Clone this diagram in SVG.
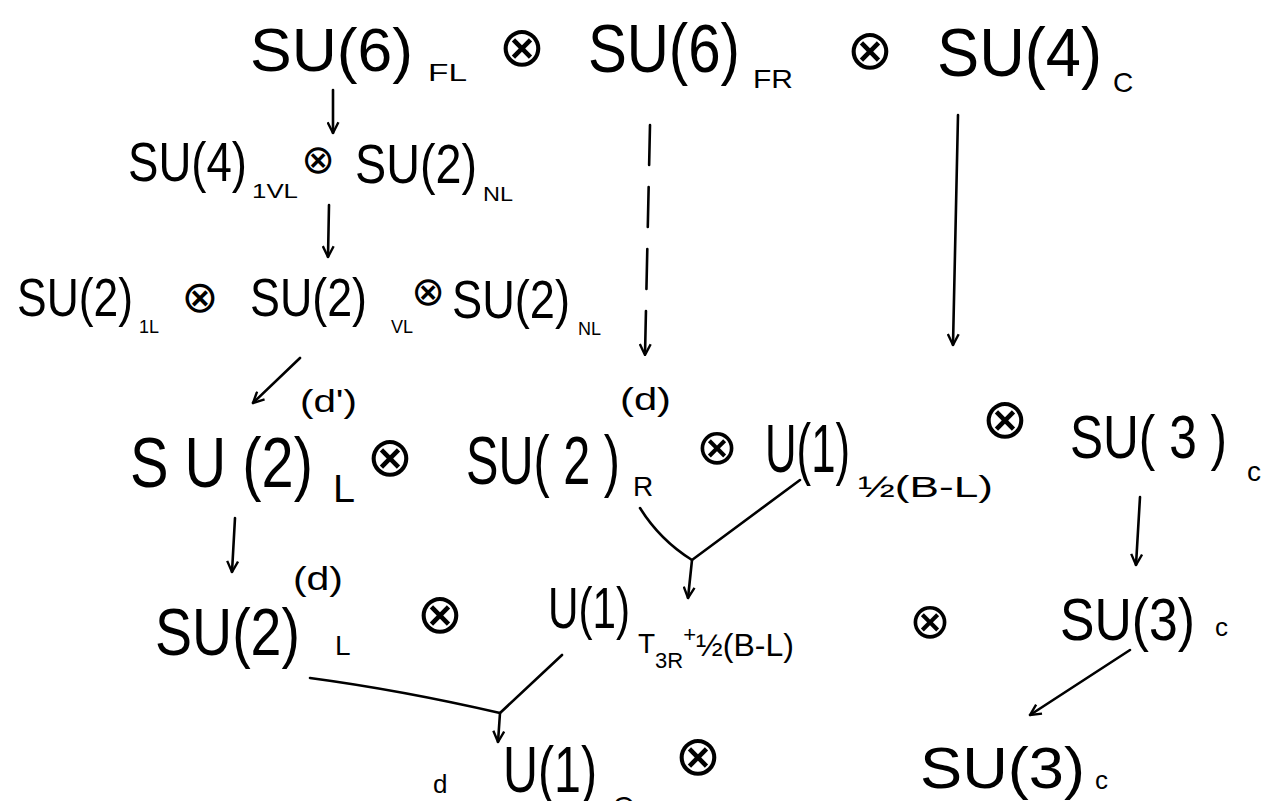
<svg xmlns="http://www.w3.org/2000/svg" width="1274" height="801" viewBox="0 0 1274 801">
<defs>
<marker id="ah" viewBox="0 0 12 12" refX="11" refY="6" markerWidth="13" markerHeight="13" markerUnits="userSpaceOnUse" orient="auto">
<path d="M1,1 L11,6 L1,11" fill="none" stroke="#000" stroke-width="2.2"/>
</marker>
<style>
text{font-family:"Liberation Sans","DejaVu Sans",sans-serif;fill:#000}
.ot{font-family:"DejaVu Sans",sans-serif;text-anchor:middle}
.ln{fill:none;stroke:#000;stroke-width:2.6;stroke-linecap:round}
</style>
</defs>
<rect width="1274" height="801" fill="#fff"/>
<g id="row1">
<text x="250" y="71" font-size="62" textLength="163" lengthAdjust="spacingAndGlyphs">SU(6)</text>
<text x="428" y="81" font-size="24" textLength="39" lengthAdjust="spacingAndGlyphs">FL</text>
<text class="ot" x="522" y="66" font-size="56">⊗</text>
<text x="588" y="72" font-size="68" textLength="152" lengthAdjust="spacingAndGlyphs">SU(6)</text>
<text x="753" y="88" font-size="26" textLength="40" lengthAdjust="spacingAndGlyphs">FR</text>
<text class="ot" x="870" y="69" font-size="56">⊗</text>
<text x="937" y="76" font-size="68" textLength="165" lengthAdjust="spacingAndGlyphs">SU(4)</text>
<text x="1113" y="92" font-size="28">C</text>
</g>
<g id="row2">
<text x="128" y="181" font-size="56" textLength="119" lengthAdjust="spacingAndGlyphs">SU(4)</text>
<text x="252" y="198" font-size="20" textLength="46" lengthAdjust="spacingAndGlyphs">1VL</text>
<text class="ot" x="318" y="173" font-size="40">⊗</text>
<text x="355" y="183" font-size="56" textLength="122" lengthAdjust="spacingAndGlyphs">SU(2)</text>
<text x="483" y="201" font-size="20" textLength="30" lengthAdjust="spacingAndGlyphs">NL</text>
</g>
<g id="row3">
<text x="17" y="316" font-size="54" textLength="116" lengthAdjust="spacingAndGlyphs">SU(2)</text>
<text x="139" y="333" font-size="18">1L</text>
<text class="ot" x="200" y="312" font-size="44">⊗</text>
<text x="250" y="316" font-size="54" textLength="117" lengthAdjust="spacingAndGlyphs">SU(2)</text>
<text x="391" y="333" font-size="18">VL</text>
<text class="ot" x="428" y="305" font-size="40">⊗</text>
<text x="452" y="318" font-size="54" textLength="118" lengthAdjust="spacingAndGlyphs">SU(2)</text>
<text x="578" y="335" font-size="18">NL</text>
</g>
<g id="row4">
<text x="130" y="487" font-size="70" textLength="183" lengthAdjust="spacingAndGlyphs">S U (2)</text>
<text x="300" y="412" font-size="32" textLength="57" lengthAdjust="spacingAndGlyphs">(d')</text>
<text x="333" y="502" font-size="38" textLength="22" lengthAdjust="spacingAndGlyphs">L</text>
<text class="ot" x="390" y="476" font-size="56">⊗</text>
<text x="466" y="484" font-size="68" textLength="154" lengthAdjust="spacingAndGlyphs">SU( 2 )</text>
<text x="620" y="410" font-size="32" textLength="51" lengthAdjust="spacingAndGlyphs">(d)</text>
<text x="633" y="496" font-size="28">R</text>
<text class="ot" x="717" y="464" font-size="50">⊗</text>
<text x="765" y="472" font-size="68" textLength="85" lengthAdjust="spacingAndGlyphs">U(1)</text>
<text x="858" y="497" font-size="30" textLength="135" lengthAdjust="spacingAndGlyphs">½(B-L)</text>
<text class="ot" x="1005" y="438" font-size="56">⊗</text>
<text x="1070" y="458" font-size="62" textLength="157" lengthAdjust="spacingAndGlyphs">SU( 3 )</text>
<text x="1247" y="481" font-size="28">c</text>
</g>
<g id="row5">
<text x="155" y="655" font-size="66" textLength="145" lengthAdjust="spacingAndGlyphs">SU(2)</text>
<text x="293" y="590" font-size="34" textLength="50" lengthAdjust="spacingAndGlyphs">(d)</text>
<text x="335" y="655" font-size="28">L</text>
<text class="ot" x="440" y="633" font-size="56">⊗</text>
<text x="548" y="628" font-size="58" textLength="82" lengthAdjust="spacingAndGlyphs">U(1)</text>
<text x="638" y="653" font-size="28">T<tspan dy="15" font-size="22">3R</tspan><tspan dy="-26" font-size="22">+</tspan><tspan dy="14" font-size="32">½(B-L)</tspan></text>
<text class="ot" x="930" y="638" font-size="50">⊗</text>
<text x="1060" y="640" font-size="60" textLength="135" lengthAdjust="spacingAndGlyphs">SU(3)</text>
<text x="1215" y="636" font-size="26">c</text>
</g>
<g id="row6">
<text x="433" y="793" font-size="26">d</text>
<text x="503" y="792" font-size="64" textLength="94" lengthAdjust="spacingAndGlyphs">U(1)</text>
<text x="613" y="816" font-size="28">Q</text>
<text class="ot" x="698" y="775" font-size="56">⊗</text>
<text x="920" y="788" font-size="58" textLength="165" lengthAdjust="spacingAndGlyphs">SU(3)</text>
<text x="1095" y="789" font-size="26">c</text>
</g>
<g id="connectors">
<line class="ln" x1="333" y1="90" x2="333" y2="133" marker-end="url(#ah)"/>
<line class="ln" x1="329" y1="205" x2="328" y2="257" marker-end="url(#ah)"/>
<line class="ln" x1="650" y1="125" x2="645" y2="355" stroke-dasharray="40,22" marker-end="url(#ah)"/>
<line class="ln" x1="958" y1="115" x2="953" y2="345" marker-end="url(#ah)"/>
<line class="ln" x1="300" y1="358" x2="253" y2="403" marker-end="url(#ah)"/>
<line class="ln" x1="235" y1="518" x2="232" y2="572" marker-end="url(#ah)"/>
<path class="ln" d="M640,508 Q660,540 692,560 L800,480"/>
<line class="ln" x1="692" y1="560" x2="688" y2="598" marker-end="url(#ah)"/>
<line class="ln" x1="1140" y1="497" x2="1136" y2="565" marker-end="url(#ah)"/>
<path class="ln" d="M310,678 Q400,690 500,713 L562,655"/>
<line class="ln" x1="500" y1="713" x2="498" y2="742" marker-end="url(#ah)"/>
<line class="ln" x1="1130" y1="650" x2="1030" y2="715" marker-end="url(#ah)"/>
</g>
</svg>
